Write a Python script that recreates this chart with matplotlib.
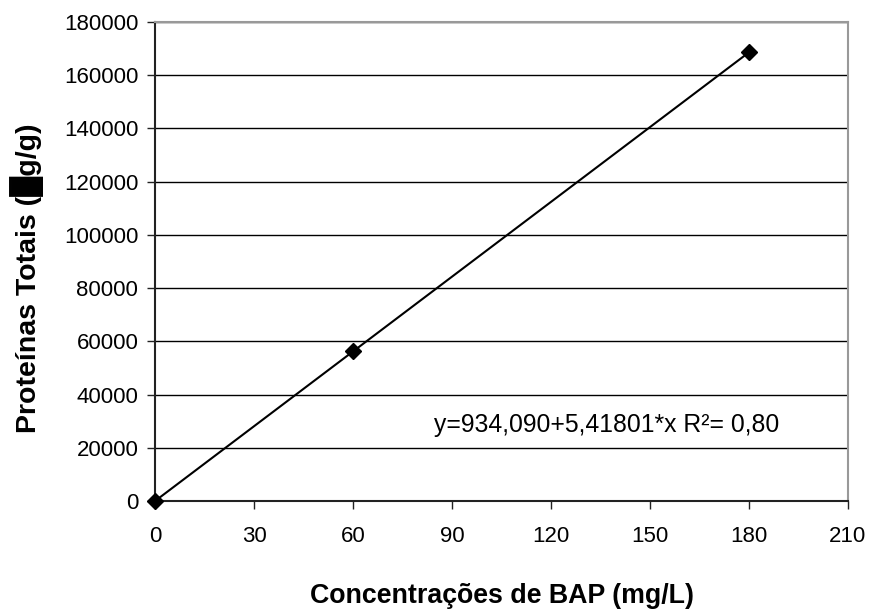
import matplotlib.pyplot as plt

plt.rcParams['font.family'] = ['Liberation Sans', 'DejaVu Sans']

# BAP concentration (mg/L) and total proteins
bap = [0, 60, 180]
proteinas = [0, 56200, 168600]

xticks = [0, 30, 60, 90, 120, 150, 180, 210]
yticks = list(range(0, 180001, 20000))

fig = plt.figure(figsize=(8.69, 6.09), dpi=100)
ax = fig.add_axes([0.1784, 0.1773, 0.7974, 0.7866])

ax.plot(bap, proteinas, color='black', lw=1.5, marker='D', ms=8.5,
        clip_on=False, zorder=3)

ax.set_xlim(0, 210)
ax.set_ylim(0, 180000)
ax.set_xticks(xticks)
ax.set_yticks(yticks)
ax.yaxis.grid(True, color='black', lw=1)
ax.set_axisbelow(True)

for s in ['left', 'bottom']:
    ax.spines[s].set_color('#222222')
    ax.spines[s].set_linewidth(1.5)
for s in ['top', 'right']:
    ax.spines[s].set_color('#999999')
    ax.spines[s].set_linewidth(1.5)

ax.tick_params(axis='both', labelsize=16, length=6, width=1, color='#222222')
ax.tick_params(axis='x', pad=12)
ax.tick_params(axis='y', pad=6)

fig.text(0.578, 0.022, 'Concentrações de BAP (mg/L)', fontsize=19.3,
         fontweight='bold', ha='center', va='center')
fig.text(0.031, 0.5435, 'Proteínas Totais (█g/g)', fontsize=20.5,
         fontweight='bold', ha='center', va='center', rotation=90)

ax.text(0.652, 0.159, 'y=934,090+5,41801*x R²= 0,80', transform=ax.transAxes,
        fontsize=17.8, ha='center', va='center')

fig.savefig('out.png', dpi=100)
